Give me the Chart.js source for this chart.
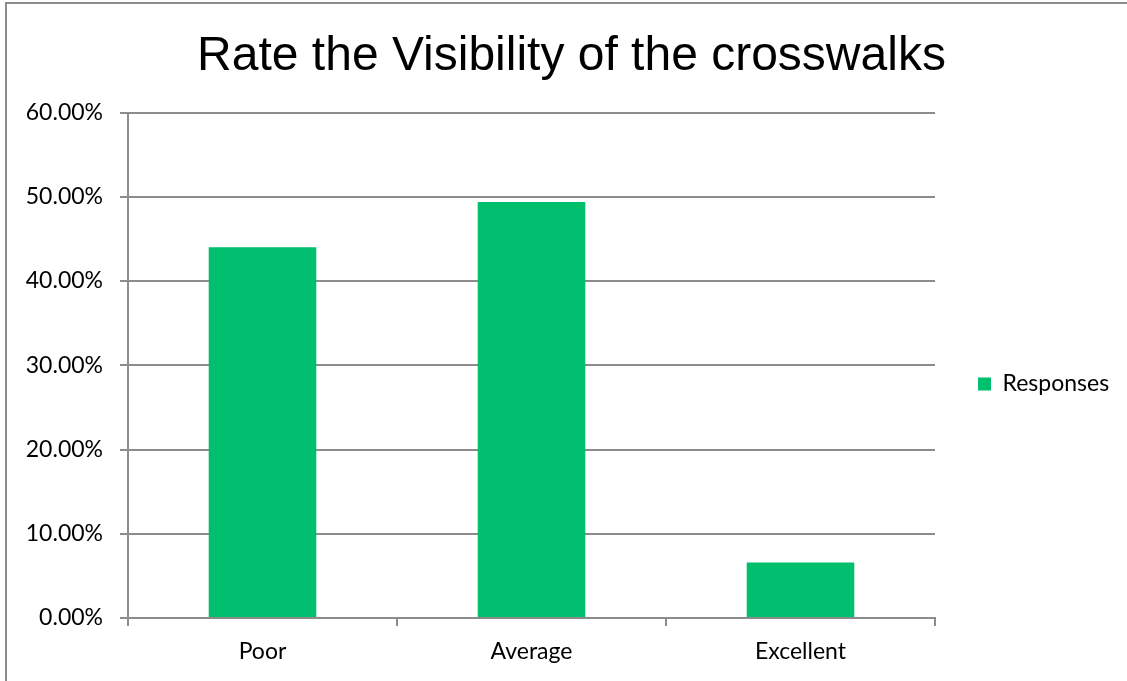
<!DOCTYPE html>
<html>
<head>
<meta charset="utf-8">
<script src="https://cdn.jsdelivr.net/npm/chart.js@4.4.1/dist/chart.umd.min.js"></script>
<style>
  html, body { margin: 0; padding: 0; background: #fff; overflow: hidden; }
  #wrap { position: relative; width: 1127px; height: 681px; }
  #frame { position: absolute; left: 5px; top: 2px; width: 1200px; height: 800px; border: 2px solid #8c8c8c; box-sizing: border-box; }
  #c { position: absolute; left: 0; top: 0; }
</style>
</head>
<body>
<div id="wrap">
  <div id="frame"></div>
  <canvas id="c" width="1127" height="681"></canvas>
</div>
<script>
const categories = ['Poor', 'Average', 'Excellent'];
const responses = [44.0, 49.4, 6.6];
const seriesName = 'Responses';
const titleText = 'Rate the Visibility of the crosswalks';
const yMax = 60;
const yStep = 10;

const GRID = '#8c8c8c';
const GREEN = '#00BF6F';
const labelFont = { family: 'Lato', size: 23 };

const legendWidthPlugin = {
  id: 'legendWidth',
  beforeLayout(chart) {
    const lg = chart.legend;
    if (lg && !lg._patched) {
      const orig = lg.fit.bind(lg);
      lg.fit = function () { orig(); this.width = 192; };
      lg._patched = true;
    }
  }
};

new Chart(document.getElementById('c'), {
  type: 'bar',
  data: {
    labels: categories,
    datasets: [{
      label: seriesName,
      data: responses,
      backgroundColor: GREEN,
      borderWidth: 0,
      barPercentage: 0.4,
      categoryPercentage: 1.0
    }]
  },
  plugins: [legendWidthPlugin],
  options: {
    responsive: false,
    animation: false,
    devicePixelRatio: 1,
    layout: { padding: { left: 16, right: 0, top: 0, bottom: 0 } },
    plugins: {
      title: {
        display: true,
        text: titleText,
        color: '#000',
        font: { family: 'Liberation Sans', size: 48, weight: 'normal' },
        padding: { top: 28, bottom: 27 }
      },
      legend: {
        display: true,
        position: 'right',
        title: { display: true, text: ' ', font: { size: 10 }, padding: { top: 0, bottom: 75 } },
        labels: {
          color: '#000',
          font: labelFont,
          boxWidth: 13,
          boxHeight: 13,
          padding: 43
        }
      },
      tooltip: { enabled: false }
    },
    scales: {
      x: {
        offset: true,
        grid: { display: true, drawOnChartArea: false, offset: true, tickLength: 8, color: GRID, lineWidth: 2 },
        border: { display: true, color: GRID, width: 2 },
        ticks: { color: '#000', font: labelFont, padding: 12 },
        afterFit: (s) => { s.height = 63; }
      },
      y: {
        min: 0,
        max: yMax,
        grid: { color: GRID, lineWidth: 2, tickLength: 8 },
        border: { display: true, color: GRID, width: 2 },
        ticks: {
          stepSize: yStep,
          color: '#000',
          font: labelFont,
          padding: 17,
          callback: (v) => v.toFixed(2) + '%'
        },
        afterFit: (s) => { s.width = 112; }
      }
    }
  }
});
</script>
</body>
</html>
